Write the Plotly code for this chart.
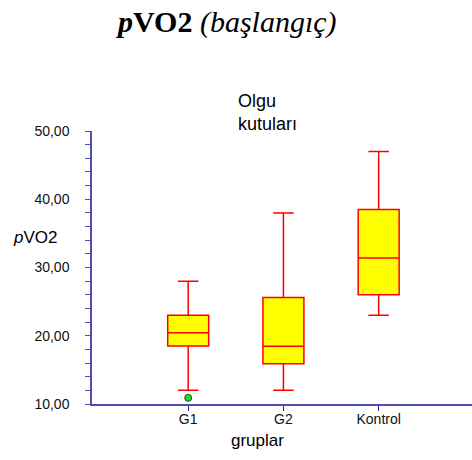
import plotly.graph_objects as go

# Box summary statistics per group
groups = ["G1", "G2", "Kontrol"]
lower_fence = [12.0, 12.0, 23.0]
q1 = [18.5, 15.9, 26.0]
median = [20.45, 18.45, 31.4]
q3 = [23.0, 25.6, 38.5]
upper_fence = [28.0, 38.0, 47.0]

# Outlying observations
outlier_group = ["G1"]
outlier_value = [10.9]

y_ticks = [10, 20, 30, 40, 50]
y_tick_text = ["10,00", "20,00", "30,00", "40,00", "50,00"]

axis_color = "#5050B0"
sans = "Liberation Sans, Arial, sans-serif"

fig = go.Figure()
fig.add_trace(go.Box(
    x=groups,
    q1=q1, median=median, q3=q3,
    lowerfence=lower_fence, upperfence=upper_fence,
    fillcolor="#FFFF00",
    line=dict(color="#FF0000", width=1.5),
    whiskerwidth=0.5,
    width=0.43,
    boxpoints=False,
    showlegend=False,
))
fig.add_trace(go.Scatter(
    x=outlier_group, y=outlier_value, mode="markers",
    marker=dict(color="#22DD22", size=7, line=dict(color="#224422", width=1)),
    showlegend=False, cliponaxis=False,
))

fig.update_layout(
    width=472, height=460,
    margin=dict(l=92, r=0, t=131, b=56),
    plot_bgcolor="white", paper_bgcolor="white",
    font=dict(family=sans, size=14, color="#111111"),
    xaxis=dict(
        type="category", range=[-1.01, 2.98],
        showgrid=False, zeroline=False,
        showline=True, linecolor=axis_color, linewidth=1.5,
        ticks="outside", ticklen=5, tickcolor="#202090",
        ticklabelstandoff=-4,
        tickfont=dict(size=14, family=sans),
    ),
    yaxis=dict(
        range=[10, 50],
        tickvals=y_ticks, ticktext=y_tick_text,
        showgrid=False, zeroline=False,
        showline=True, linecolor=axis_color, linewidth=1.5,
        ticks="outside", ticklen=5, tickcolor=axis_color,
        ticklabelstandoff=13,
        minor=dict(dtick=2, ticks="outside", ticklen=5, tickcolor=axis_color),
        tickfont=dict(size=14, family=sans),
    ),
    annotations=[
        dict(text="<b><i>p</i>VO2</b> <i>(başlangıç)</i>",
             xref="paper", yref="paper", x=(226 - 92) / 380, y=1 + (131 - 22) / 273,
             xanchor="center", yanchor="middle", showarrow=False,
             font=dict(family="Liberation Serif, Times New Roman, serif", size=30, color="black")),
        dict(text="Olgu<br>kutuları",
             xref="paper", yref="paper", x=(236 - 92) / 380, y=1 + (131 - 112) / 273,
             xanchor="left", yanchor="middle", align="left", showarrow=False,
             font=dict(family=sans, size=18, color="black")),
        dict(text="<i>p</i>VO2",
             xref="paper", yref="paper", x=(35 - 92) / 380, y=(404 - 237) / 273,
             xanchor="center", yanchor="middle", showarrow=False,
             font=dict(family=sans, size=17, color="black")),
        dict(text="gruplar",
             xref="paper", yref="paper", x=(257 - 92) / 380, y=-(440 - 404) / 273,
             xanchor="center", yanchor="middle", showarrow=False,
             font=dict(family=sans, size=17, color="black")),
    ],
)

fig.write_html("out.html")
